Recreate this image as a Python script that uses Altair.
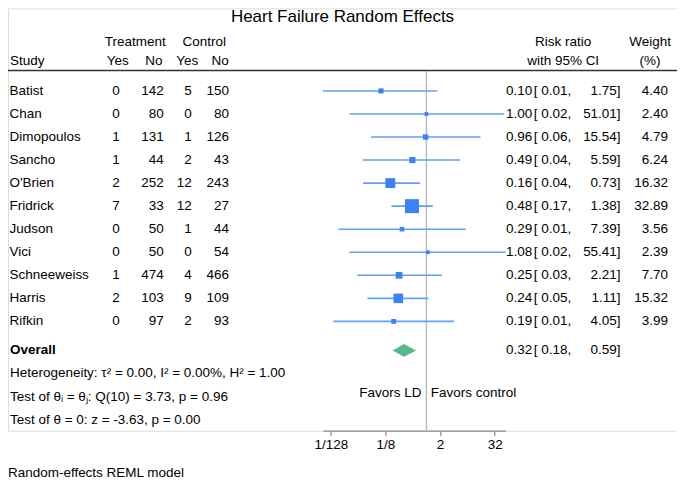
import altair as alt
import pandas as pd

# ---------------- data ----------------
studies = ["Batist", "Chan", "Dimopoulos", "Sancho", "O'Brien", "Fridrick",
           "Judson", "Vici", "Schneeweiss", "Harris", "Rifkin"]
t_yes = [0, 0, 1, 1, 2, 7, 0, 0, 1, 2, 0]
t_no = [142, 80, 131, 44, 252, 33, 50, 50, 474, 103, 97]
c_yes = [5, 0, 1, 2, 12, 12, 1, 0, 4, 9, 2]
c_no = [150, 80, 126, 43, 243, 27, 44, 54, 466, 109, 93]
rr = [0.10, 1.00, 0.96, 0.49, 0.16, 0.48, 0.29, 1.08, 0.25, 0.24, 0.19]
lo = [0.0052, 0.02, 0.06, 0.04, 0.04, 0.17, 0.0115, 0.02, 0.03, 0.05, 0.0089]
hi = [1.75, 51.01, 15.54, 5.59, 0.73, 1.38, 7.39, 55.41, 2.21, 1.11, 4.05]
weight = [4.40, 2.40, 4.79, 6.24, 16.32, 32.89, 3.56, 2.39, 7.70, 15.32, 3.99]
overall_rr, overall_lo, overall_hi = 0.32, 0.18, 0.59
tick_values = [1 / 128, 1 / 8, 2, 32]

FONT = "Liberation Sans"
FS = 13.5
TXT = "#000000"
SQ = "#3d82f5"
LN = "#639ef7"
GREEN = "#57b98a"
GRAY = "#bcbcbc"

df = pd.DataFrame({
    "study": studies, "t_yes": t_yes, "t_no": t_no, "c_yes": c_yes, "c_no": c_no,
    "rr": rr, "lo": lo, "hi": hi, "weight": weight,
})
df["row"] = list(range(len(studies)))
df["rr_s"] = df["rr"].map(lambda v: f"{v:.2f}")
df["lo_s"] = df["lo"].map(lambda v: f"[ {v:.2f},")
df["hi_s"] = df["hi"].map(lambda v: f"{v:.2f}]")
df["w_s"] = df["weight"].map(lambda v: f"{v:.2f}")
for c in ["t_yes", "t_no", "c_yes", "c_no"]:
    df[c + "_s"] = df[c].astype(str)

OVERALL_ROW = 11.26
ov = pd.DataFrame({"row": [OVERALL_ROW], "rr_s": [f"{overall_rr:.2f}"],
                   "lo_s": [f"[ {overall_lo:.2f},"], "hi_s": [f"{overall_hi:.2f}]"],
                   "label": ["Overall"]})
diamond = pd.DataFrame({
    "x": [overall_lo, overall_rr, overall_hi],
    "top": [OVERALL_ROW, OVERALL_ROW - 0.275, OVERALL_ROW],
    "bottom": [OVERALL_ROW, OVERALL_ROW + 0.275, OVERALL_ROW],
})

yscale = alt.Scale(domain=[0, 10], range=[82.7, 313.5], nice=False, zero=False)
xscale = alt.Scale(type="log", base=2, domain=[min(lo), max(hi)],
                   range=[315.3, 498.2], nice=False)
xaxis = alt.Axis(values=tick_values, title=None, grid=False,
                 labelExpr="datum.value < 1 ? '1/' + format(1/datum.value, 'd') : format(datum.value, 'd')",
                 domainColor="#8a8a8a", domainWidth=1.3, tickColor="#8a8a8a", tickWidth=1.2,
                 tickSize=5, labelFontSize=FS, labelFont=FONT, labelColor=TXT,
                 labelPadding=2, labelFlush=False)
Y = alt.Y("row:Q", scale=yscale, axis=None)


def label(text, x, y, align="left", size=FS, bold=False):
    return alt.Chart(alt.Data(values=[{}])).mark_text(
        align=align, baseline="middle", fontSize=size, font=FONT, color=TXT,
        fontWeight="bold" if bold else "normal",
    ).encode(x=alt.value(x), y=alt.value(y), text=alt.value(text))


def column(data, field, x, align, bold=False):
    return alt.Chart(data).mark_text(
        align=align, baseline="middle", fontSize=FS, font=FONT, color=TXT,
        fontWeight="bold" if bold else "normal",
    ).encode(x=alt.value(x), y=Y, text=alt.Text(f"{field}:N"))


one = alt.Data(values=[{"v": 1}])
vline = alt.Chart(one).mark_rule(color=GRAY, strokeWidth=1.5).encode(
    x=alt.X("v:Q", scale=xscale, axis=xaxis), y=alt.value(63), y2=alt.value(423))
hline = alt.Chart(alt.Data(values=[{}])).mark_rule(color="#333333", strokeWidth=1.6).encode(
    x=alt.value(0), x2=alt.value(672), y=alt.value(62.3))

ci = alt.Chart(df).mark_rule(color=LN, strokeWidth=1.6).encode(
    x=alt.X("lo:Q", scale=xscale, axis=xaxis), x2="hi:Q", y=Y)
squares = alt.Chart(df).mark_square(color=SQ, opacity=1, filled=True).encode(
    x=alt.X("rr:Q", scale=xscale, axis=xaxis), y=Y,
    size=alt.Size("weight:Q", scale=alt.Scale(domain=[0, 32.89], range=[0, 197]), legend=None))
dia = alt.Chart(diamond).mark_area(color=GREEN, opacity=1).encode(
    x=alt.X("x:Q", scale=xscale, axis=xaxis),
    y=alt.Y("top:Q", scale=yscale, axis=None), y2="bottom:Q")

layers = [vline, hline, ci, squares, dia,
          column(df, "study", 1.5, "left"),
          column(df, "t_yes_s", 112, "right"),
          column(df, "t_no_s", 156, "right"),
          column(df, "c_yes_s", 184, "right"),
          column(df, "c_no_s", 221.3, "right"),
          column(df, "rr_s", 525, "right"),
          column(df, "lo_s", 526.5, "left"),
          column(df, "hi_s", 613.5, "right"),
          column(df, "w_s", 661, "right"),
          column(ov, "label", 2, "left", bold=True),
          column(ov, "rr_s", 525, "right"),
          column(ov, "lo_s", 526.5, "left"),
          column(ov, "hi_s", 613.5, "right"),
          label("Heart Failure Random Effects", 335, 9, "center", size=17),
          label("Treatment", 127.5, 34, "center"),
          label("Control", 196.5, 34, "center"),
          label("Study", 2, 53),
          label("Yes", 110, 53, "center"),
          label("No", 146, 53, "center"),
          label("Yes", 179.5, 53, "center"),
          label("No", 212.5, 53, "center"),
          label("Risk ratio", 556, 34, "center"),
          label("with 95% CI", 556, 53, "center"),
          label("Weight", 643, 34, "center"),
          label("(%)", 643, 53, "center"),
          label("Heterogeneity: τ² = 0.00, I² = 0.00%, H² = 1.00", 2, 365),
          label("Test of θᵢ = θⱼ: Q(10) = 3.73, p = 0.96", 2, 389),
          label("Test of θ = 0: z = -3.63, p = 0.00", 2, 412),
          label("Favors LD", 414, 385, "right"),
          label("Favors control", 423.5, 385, "left"),
          label("Random-effects REML model", 0, 465),
          ]

chart = alt.layer(*layers).properties(
    width=670, height=423,
    autosize=alt.AutoSizeParams(type="none"),
    padding={"left": 0, "top": 0, "right": 0, "bottom": 48},
).configure_view(stroke=None).configure(background="white")

chart.save("out.html", embed_options={"renderer": "svg", "actions": False})
